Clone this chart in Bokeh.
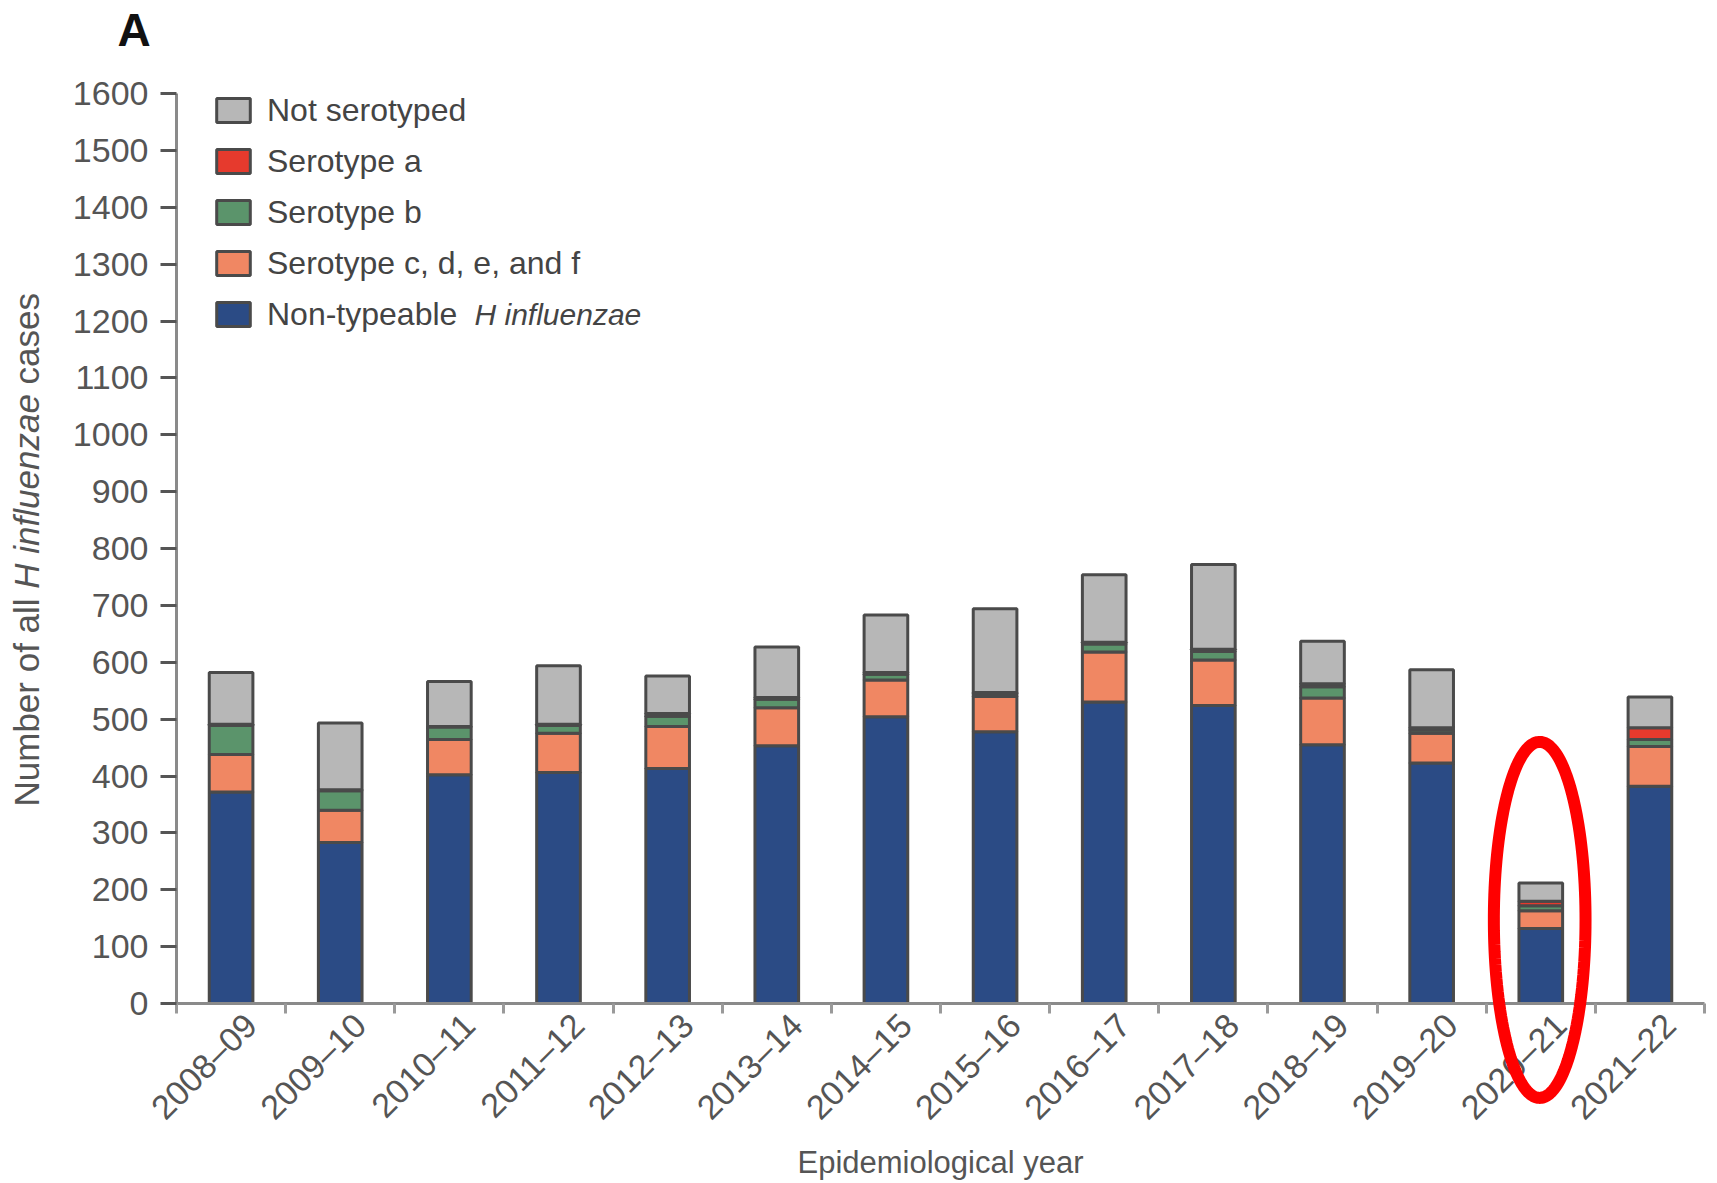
import numpy as np
from bokeh.plotting import figure
from bokeh.models import (ColumnDataSource, Range1d, FixedTicker, Legend, LegendItem,
                          Label, PolyAnnotation)
from bokeh.embed import file_html
from bokeh.resources import INLINE

# ---------------- data ----------------
years = ["2008–09", "2009–10", "2010–11", "2011–12", "2012–13", "2013–14", "2014–15",
         "2015–16", "2016–17", "2017–18", "2018–19", "2019–20", "2020–21", "2021–22"]
non_typeable = [372, 283, 402, 406, 413, 453, 504, 478, 530, 524, 455, 423, 132, 382]
serotype_cdef = [66, 57, 62, 69, 74, 67, 65, 62, 88, 80, 82, 52, 31, 70]
serotype_b = [51, 34, 22, 14, 18, 15, 10, 5, 14, 15, 20, 6, 9, 12]
serotype_a = [2, 2, 1, 2, 5, 3, 3, 2, 3, 4, 5, 4, 8, 21]
not_serotyped = [91, 117, 79, 103, 66, 89, 101, 147, 119, 149, 75, 102, 32, 54]
y_ticks = list(range(0, 1700, 100))
y_max_tick = 1600
highlight_year = "2020–21"

colors = ["#2b4b85", "#f08763", "#5b946b", "#e63a2d", "#b7b7b7"]

FONT = "Liberation Sans"
TXT = "#555555"

# ---------------- layout (canvas pixels) ----------------
W, H = 1712, 1180
X0_PX, X1_PX = 176, 1704          # canvas x of first and last category edge
Y0_PX, YT_PX = 1003, 93           # canvas y of value 0 and of value 1600
n = len(years)
xpu = (X1_PX - X0_PX) / n
ypu = (Y0_PX - YT_PX) / y_max_tick
x_start = -X0_PX / xpu
x_end = n + (W - X1_PX) / xpu
y_end = y_max_tick + YT_PX / ypu
y_start = -(H - Y0_PX) / ypu


def cx(px):   # canvas x -> data x
    return x_start + px / xpu


def cy(py):   # canvas y -> data y
    return y_end - py / ypu


centers = [i + 0.5 for i in range(n)]
src = ColumnDataSource(dict(x=centers, nt=non_typeable, cdef=serotype_cdef,
                            b=serotype_b, a=serotype_a, ns=not_serotyped))

p = figure(width=W, height=H, x_range=Range1d(x_start, x_end), y_range=Range1d(y_start, y_end),
           output_backend="svg", toolbar_location=None, min_border=0)
p.outline_line_color = None
p.grid.grid_line_color = None

rs = p.vbar_stack(["nt", "cdef", "b", "a", "ns"], x="x", width=0.40, source=src,
                  fill_color=colors, line_color="#4a4a4a", line_width=3)

# x axis (drawn at value 0)
label_shift = 0.18
xa = p.xaxis[0]
xa.fixed_location = 0
xa.bounds = (0, n)
xa.ticker = FixedTicker(ticks=[c + label_shift for c in centers], minor_ticks=list(range(n + 1)))
xa.major_label_overrides = {c + label_shift: y for c, y in zip(centers, years)}
xa.major_label_orientation = np.pi / 4
xa.major_tick_line_color = None
xa.major_tick_out = 0
xa.major_tick_in = 0
xa.minor_tick_out = 10
xa.minor_tick_in = 0
xa.minor_tick_line_color = "#9a9a9a"
xa.minor_tick_line_width = 3
xa.axis_line_color = "#8a8a8a"
xa.axis_line_width = 3
xa.major_label_text_font = FONT
xa.major_label_text_font_size = "34px"
xa.major_label_text_color = TXT
xa.major_label_standoff = 6

# y axis (drawn at category edge 0)
ya = p.yaxis[0]
ya.fixed_location = 0
ya.bounds = (0, y_max_tick)
ya.ticker = FixedTicker(ticks=y_ticks, minor_ticks=[])
ya.major_tick_out = 16
ya.major_tick_in = 0
ya.major_tick_line_color = "#555555"
ya.major_tick_line_width = 3
ya.axis_line_color = "#8a8a8a"
ya.axis_line_width = 3
ya.major_label_text_font = FONT
ya.major_label_text_font_size = "34px"
ya.major_label_text_color = TXT
ya.major_label_standoff = 12

# legend
LEG_LEFT, LEG_TOP, ROW_H, ROW_SP = 212, 87, 46, 5
items = [LegendItem(label="Not serotyped", renderers=[rs[4]]),
         LegendItem(label="Serotype a", renderers=[rs[3]]),
         LegendItem(label="Serotype b", renderers=[rs[2]]),
         LegendItem(label="Serotype c, d, e, and f", renderers=[rs[1]]),
         LegendItem(label="Non-typeable", renderers=[rs[0]])]
leg_h = len(items) * ROW_H + (len(items) - 1) * ROW_SP
leg = Legend(items=items, location=(LEG_LEFT, H - LEG_TOP - leg_h),
             orientation="vertical",
             glyph_width=42, glyph_height=30, label_height=ROW_H, spacing=ROW_SP, padding=0,
             label_standoff=13, border_line_color=None, background_fill_alpha=0,
             label_text_font=FONT, label_text_font_size="32px", label_text_color="#444444")
p.add_layout(leg)

# italic part of the last legend label
p.add_layout(Label(x=cx(474), y=cy(LEG_TOP + 4 * (ROW_H + ROW_SP) + ROW_H / 2),
                   text="H influenzae", text_font=FONT, text_font_size="30px",
                   text_font_style="italic", text_color="#444444", text_baseline="middle"))

# y axis label (mixed styles), rotated, reading upwards
YL_SIZE = 35
ylab_parts = [("Number of all", "normal", 5.946), ("H influenzae", "italic", 5.558),
              ("cases", "normal", 2.612)]
space_em = 0.278
pos = 806
for t, st, w_em in ylab_parts:
    p.add_layout(Label(x=cx(26), y=cy(pos), text=t, angle=np.pi / 2, text_font=FONT,
                       text_font_size=f"{YL_SIZE}px", text_font_style=st, text_color=TXT,
                       text_align="left", text_baseline="middle"))
    pos -= (w_em + space_em) * YL_SIZE

# x axis label
p.add_layout(Label(x=n / 2, y=cy(1162), text="Epidemiological year", text_font=FONT,
                   text_font_size="31px", text_color=TXT, text_align="center",
                   text_baseline="middle"))

# panel letter
p.add_layout(Label(x=cx(117), y=cy(29), text="A", text_font=FONT, text_font_size="46px",
                   text_font_style="bold", text_color="#111111", text_baseline="middle"))

# red ellipse highlight
hi = years.index(highlight_year) + 0.5 - 0.01
t = np.linspace(0, 2 * np.pi, 160)
p.add_layout(PolyAnnotation(xs=list(hi + 0.42 * np.cos(t)), ys=list(147 + 313 * np.sin(t)),
                            fill_alpha=0, line_color="#ff0000", line_alpha=1.0, line_width=12))

open("out.html", "w").write(file_html(p, INLINE))
